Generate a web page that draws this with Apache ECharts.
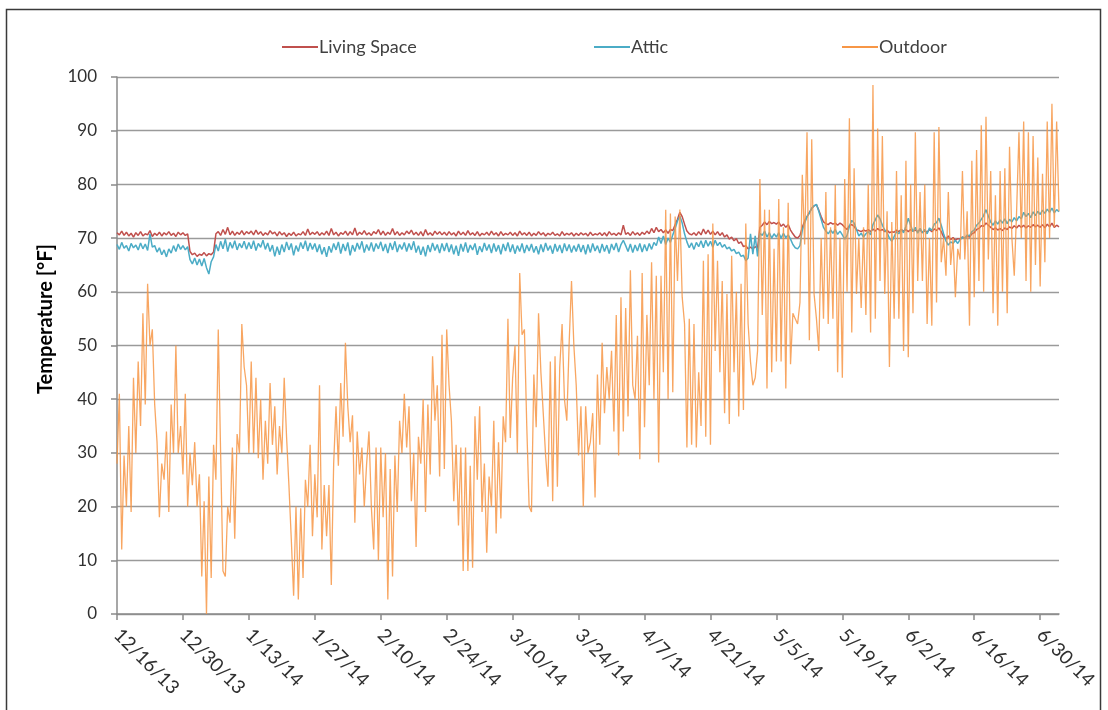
<!DOCTYPE html>
<html>
<head>
<meta charset="utf-8">
<script src="https://cdn.jsdelivr.net/npm/echarts@6/dist/echarts.min.js"></script>
<style>
html,body{margin:0;padding:0;background:#fff;}
#chart{width:1108px;height:710px;}
</style>
</head>
<body>
<div id="chart"></div>
<script>
// Half-day samples starting 12/16/13 00:00 (401 samples, through 7/4/14 00:00)
const startDateUTC = Date.UTC(2013, 11, 16);
const stepHours = 12;
const seriesNames = ['Living Space', 'Attic', 'Outdoor'];
const yAxisTitle = 'Temperature [°F]';

const livingSpace = [
71.0,70.6,71.3,70.5,71.1,70.4,70.9,70.2,71.0,70.5,71.2,70.4,70.8,70.6,71.4,70.3,70.9,70.5,71.1,70.4,71.0,70.6,71.2,70.5,70.9,70.3,71.1,70.6,
71.0,70.5,70.8,67.5,66.9,67.2,66.6,67.0,66.8,67.3,66.7,67.1,66.9,67.4,70.8,71.2,70.5,71.6,70.7,72.0,70.6,71.3,70.5,71.1,70.7,71.4,70.6,71.2,
70.8,71.3,70.6,71.5,70.7,71.2,70.5,71.0,70.6,71.4,70.8,71.1,70.4,71.2,70.6,71.0,70.3,70.9,70.5,71.1,70.4,70.8,70.6,71.2,70.5,71.7,70.6,71.1,
70.7,71.2,70.5,71.0,70.6,71.3,70.5,71.8,70.6,71.1,70.4,71.0,70.7,71.3,70.5,71.2,70.6,71.9,70.5,71.1,70.7,71.4,70.6,71.0,70.5,71.2,70.8,71.6,
70.6,71.3,70.5,71.1,70.7,71.8,70.6,71.2,70.5,71.0,70.6,71.3,70.8,71.5,70.6,71.1,70.5,71.2,70.4,71.6,70.6,71.0,70.5,71.3,70.7,71.2,70.6,71.1,
70.5,71.2,70.6,71.0,70.4,71.3,70.6,71.1,70.5,71.4,70.6,71.0,70.5,71.2,70.4,70.9,70.6,71.1,70.5,71.3,70.6,71.0,70.4,71.2,70.5,70.9,70.6,71.1,
70.5,71.0,70.4,71.3,70.6,71.0,70.5,71.1,70.4,70.9,70.5,71.2,70.6,71.0,70.4,70.9,70.6,71.1,70.5,70.8,70.4,71.2,70.5,70.9,70.6,71.0,70.4,70.9,
70.5,71.0,70.6,70.9,70.4,71.1,70.5,70.8,70.6,71.0,70.5,71.0,70.4,71.2,70.6,70.9,70.5,71.0,70.6,72.4,70.7,71.0,70.5,71.2,70.6,71.0,70.5,71.1,
70.7,71.3,70.8,71.8,71.0,72.0,71.2,71.6,71.0,71.5,70.9,71.6,71.4,72.5,73.5,74.8,74.0,72.6,71.3,70.8,70.6,71.0,70.5,71.2,70.6,71.7,70.8,71.5,
70.7,71.3,70.6,71.2,70.5,71.0,70.2,70.6,69.8,70.2,69.5,69.9,69.0,69.3,68.4,68.6,68.0,68.3,68.0,68.4,68.1,72.0,72.4,73.0,72.5,73.1,72.7,72.9,
72.6,73.0,72.2,72.6,72.0,72.5,71.5,70.8,70.2,70.0,70.5,72.0,73.2,74.0,74.8,75.5,76.0,76.2,75.2,74.0,73.0,72.7,72.5,72.9,72.6,72.8,72.4,72.8,
72.5,72.0,71.6,72.3,72.5,72.2,71.5,71.4,71.2,71.5,71.3,71.6,71.2,71.7,71.3,71.8,71.4,71.6,71.2,71.5,71.0,71.2,71.1,71.5,71.2,71.6,71.3,71.6,
71.2,71.6,71.3,71.5,71.2,71.6,71.0,71.4,71.1,71.6,71.2,71.7,71.4,71.9,71.2,70.2,69.8,70.4,69.7,70.1,69.6,69.9,69.8,70.2,70.0,70.4,70.2,70.8,
71.0,71.6,71.8,72.3,72.2,72.8,72.4,72.0,71.6,71.9,71.5,71.8,71.4,71.9,71.6,72.1,71.8,72.3,71.9,72.4,72.0,72.4,71.9,72.3,72.0,72.5,72.1,72.4,
72.0,72.5,71.9,72.6,72.1,72.8,72.0,72.4,72.1
];

const attic = [
68.8,67.9,69.2,68.1,68.6,67.6,69.0,68.2,68.7,67.8,69.1,68.0,68.9,67.7,70.8,68.3,68.6,67.4,68.2,66.9,67.8,66.5,68.0,67.2,68.6,67.5,68.9,67.9,
68.6,67.8,68.4,66.0,65.2,66.3,65.0,66.1,64.8,66.2,64.5,63.3,65.6,66.5,68.8,67.6,69.4,68.0,69.8,67.5,69.2,68.1,69.5,67.8,69.0,68.2,69.4,67.9,
69.2,68.0,69.5,67.7,69.0,68.3,69.6,67.9,69.1,67.5,68.7,66.6,68.4,66.9,68.8,67.4,69.3,67.8,69.0,66.8,68.6,67.5,69.2,68.0,69.5,67.6,69.1,67.9,
69.0,67.4,68.8,67.0,68.3,66.5,68.5,67.3,69.0,67.8,69.3,67.1,68.9,67.6,69.2,66.8,68.7,67.5,69.1,67.9,69.4,67.3,68.8,67.7,69.2,67.5,69.0,68.0,
69.3,67.6,68.9,67.2,69.1,67.8,69.4,67.4,68.8,67.9,69.2,67.5,69.0,67.8,69.4,67.3,68.6,66.9,68.4,66.6,68.7,67.4,69.1,67.7,68.8,67.2,69.0,67.6,
69.1,67.4,68.8,67.0,68.6,66.7,68.9,67.5,69.2,67.3,68.7,67.8,69.0,66.9,68.5,67.4,69.1,67.7,68.8,67.2,69.0,67.5,68.7,67.0,68.9,67.6,69.2,67.4,
68.8,67.1,68.6,67.5,69.0,67.2,68.7,67.6,68.9,67.3,68.5,67.0,68.8,67.4,69.1,67.7,68.6,67.1,68.9,67.5,68.7,67.2,69.0,67.6,68.8,67.3,68.6,67.5,
68.9,67.4,68.7,67.0,68.8,67.3,69.0,67.6,68.6,67.2,68.9,67.5,68.7,67.1,68.9,67.8,69.1,67.4,68.8,69.6,68.6,67.5,68.9,67.3,68.7,67.6,69.0,67.4,
68.8,67.6,69.0,67.9,69.2,68.6,70.2,69.0,70.4,68.8,70.0,69.2,70.6,71.8,73.2,74.1,72.8,70.8,69.3,68.2,69.1,67.9,69.2,68.4,69.5,68.2,69.6,68.5,
69.4,68.3,69.6,68.6,69.2,68.3,68.8,68.0,68.3,67.6,67.9,67.1,67.4,66.6,66.8,65.8,66.3,70.8,67.0,70.4,66.6,70.9,70.5,71.3,70.2,71.0,70.0,70.8,
70.2,71.0,70.0,70.9,70.1,70.6,69.8,68.8,68.2,68.0,68.6,71.5,72.8,74.0,74.6,75.6,76.0,76.3,75.0,73.5,72.0,71.3,70.8,71.5,70.9,71.6,70.7,71.3,
70.6,69.8,70.5,72.2,73.3,72.8,71.6,70.4,70.9,70.2,70.8,71.2,70.6,72.5,73.4,74.3,73.6,72.4,71.5,71.0,70.0,69.4,70.3,71.2,70.8,71.6,71.0,72.2,
73.7,72.4,71.2,72.0,70.9,71.8,71.0,71.6,70.8,71.9,71.4,72.6,72.9,73.7,72.4,70.8,69.5,68.7,69.3,69.0,69.6,69.0,69.7,70.2,69.9,70.6,70.4,71.2,
71.5,72.4,72.8,73.5,74.2,75.3,74.1,73.0,72.4,73.2,72.6,73.4,72.8,73.6,72.7,73.5,73.0,73.8,73.2,74.0,73.6,74.8,74.0,74.6,73.8,74.9,74.2,75.0,
74.4,75.2,74.6,75.4,74.8,75.6,74.7,75.3,74.9
];

const outdoor = [
28,41,12,29.5,20,35,19,44,30,47,35,56,39,61.5,50,53,39,32,18,28,25,34,19,39,30,50,30,35,
26,41,20,30,24,32,20,26,7,21,0,25.6,6.7,31.5,25,53,30,8,7,20,17,31,14,33.5,30,54,46,42.6,
30,47,30,44,29,40,25,36,28,43,31.5,38.7,26,35,30,44,33,24,14,3.4,20,2.7,19.7,6.7,25,20,31.5,14.5,
26,18,42.6,12,24,14.5,24,5.4,28,38.7,27.6,43,33,50.5,38.7,32,37,17,34,26,31,20,28,34,20,12,31,10,
31,18,30,2.7,27,7,29.5,19,36,30,41,31,38.7,21,30,12.5,33,28,40,19,39,26,48,36,42.6,25.6,52,27,
53,42.6,36,21,31.5,16.5,31,8,31,8,27.6,8.6,36.8,25,38.7,19,28,11.4,25.6,20,36,15,32,17.8,36.8,32,55,32.8,
44,50,30,63.5,52,53,35,20,19,44.6,34.8,56,45,37.4,29.5,23.7,47,21,48,23.7,46,54,40,36,50.5,62,50,42.6,
29.5,38.7,20,38.7,30,32,37.4,21.7,44.6,31.5,50.5,37.4,46,40,49,34,55.7,29.5,59,34,57,36.8,64,42.6,40,51.8,28.8,63.5,
34.8,55.7,42.6,65.5,40,63,28.2,63,45,75.3,40,74.6,41.3,74,62,75.3,59,54,31,55,31.5,54,31,45,35,65.8,33,67,
31.5,72.7,49,65.8,45,62,37.4,59.6,35.4,66.7,45,60,36.8,61.5,38,72.7,54,47,42.6,44,49,81,55.7,75.3,42,75.3,45,68,
47,77.3,47,72,42,76.6,46.5,56,55,54,58,81.8,68.8,89.7,51,88.4,59.6,55,49,70,55,78.6,54,72,55,79.9,45,70,
44,81,60,92.3,52.4,83,59.6,70,57,72,55.7,80,52.4,98.5,55,90.4,62,89,59.6,75,46,73,55,82.5,55,78,49,84.4,
47.8,80,56,89.7,62,78.6,62,80,54,70,53.7,89.7,58,90.7,65.5,70,63,78.6,65,70,59,68,66,82.5,66,75,53.7,84.4,
59,86.4,62,91,60,92.6,66,82.5,56,78,53.7,82.5,60,83,56,87,70,63,75,89.7,70,91.7,62,89.7,60,89,65,85,
61,82,65.5,91.7,70,95,72,91.7,75
];

// y-axis scale
const yMin = 0, yMax = 100, yStep = 10;
// x tick every 14 days = 28 half-day samples
const tickEvery = 28;

const categories = outdoor.map(function (_, i) {
  const d = new Date(startDateUTC + i * stepHours * 3600 * 1000);
  return (d.getUTCMonth() + 1) + '/' + d.getUTCDate() + '/' + String(d.getUTCFullYear()).slice(2) + ' ' + d.getUTCHours() + ':00';
});

const chart = echarts.init(document.getElementById('chart'), null, {renderer: 'canvas'});
const FONT = 'Lato';
const colors = ['#C0504D', '#4BACC6', '#F79646'];

function legendAt(name, left) {
  return {
    data: [name], left: left, top: 33, itemWidth: 36, itemHeight: 14, itemGap: 0,
    icon: 'path://M0,6 L36,6 L36,8 L0,8 Z',
    textStyle: {fontFamily: FONT, fontSize: 18, color: '#404040', padding: [0, 0, 0, -4]},
    selectedMode: false
  };
}

chart.setOption({
  animation: false,
  backgroundColor: '#ffffff',
  color: colors,
  textStyle: {fontFamily: FONT},
  graphic: [
    {
      type: 'rect', shape: {x: 6.5, y: 9.5, width: 1094, height: 740},
      style: {fill: 'none', stroke: '#3a3a3a', lineWidth: 1.5}, silent: true, z: -10
    },
    {
      type: 'text', x: 46, y: 319, rotation: Math.PI / 2, silent: true,
      style: {text: yAxisTitle, fontFamily: FONT, fontSize: 20, fontWeight: 'bold', fill: '#000',
              align: 'center', verticalAlign: 'middle'}
    }
  ],
  legend: [
    legendAt(seriesNames[0], 277),
    legendAt(seriesNames[1], 589),
    legendAt(seriesNames[2], 837)
  ],
  grid: {left: 117, right: 49, top: 77, bottom: 96, containLabel: false},
  xAxis: {
    type: 'category',
    data: categories,
    boundaryGap: false,
    axisLine: {show: true, lineStyle: {color: '#8a8a8a', width: 1.5}},
    axisTick: {show: true, length: 6, interval: function (i) { return i % tickEvery === 0; }, lineStyle: {color: '#8a8a8a', width: 1.5}},
    axisLabel: {
      interval: function (i) { return i % tickEvery === 0; },
      rotate: -45, margin: 18,
      fontFamily: FONT, fontSize: 19, color: '#303030',
      formatter: function (v) { return v.split(' ')[0]; }
    },
    splitLine: {show: false}
  },
  yAxis: {
    type: 'value', min: yMin, max: yMax, interval: yStep,
    axisLine: {show: true, lineStyle: {color: '#8a8a8a', width: 1.5}},
    axisTick: {show: true, length: 6, lineStyle: {color: '#8a8a8a', width: 1.5}},
    axisLabel: {margin: 20, fontFamily: FONT, fontSize: 17, color: '#303030'},
    splitLine: {show: true, lineStyle: {color: '#9a9a9a', width: 1.3}}
  },
  series: [
    {name: seriesNames[0], type: 'line', data: livingSpace, symbol: 'none', showSymbol: false,
     lineStyle: {width: 1.5, color: colors[0]}, itemStyle: {color: colors[0]}, z: 2},
    {name: seriesNames[1], type: 'line', data: attic, symbol: 'none', showSymbol: false,
     lineStyle: {width: 1.5, color: colors[1]}, itemStyle: {color: colors[1]}, z: 3},
    {name: seriesNames[2], type: 'line', data: outdoor, symbol: 'none', showSymbol: false,
     lineStyle: {width: 1.3, color: colors[2], opacity: 0.85}, itemStyle: {color: colors[2]}, z: 4}
  ]
});
</script>
</body>
</html>
